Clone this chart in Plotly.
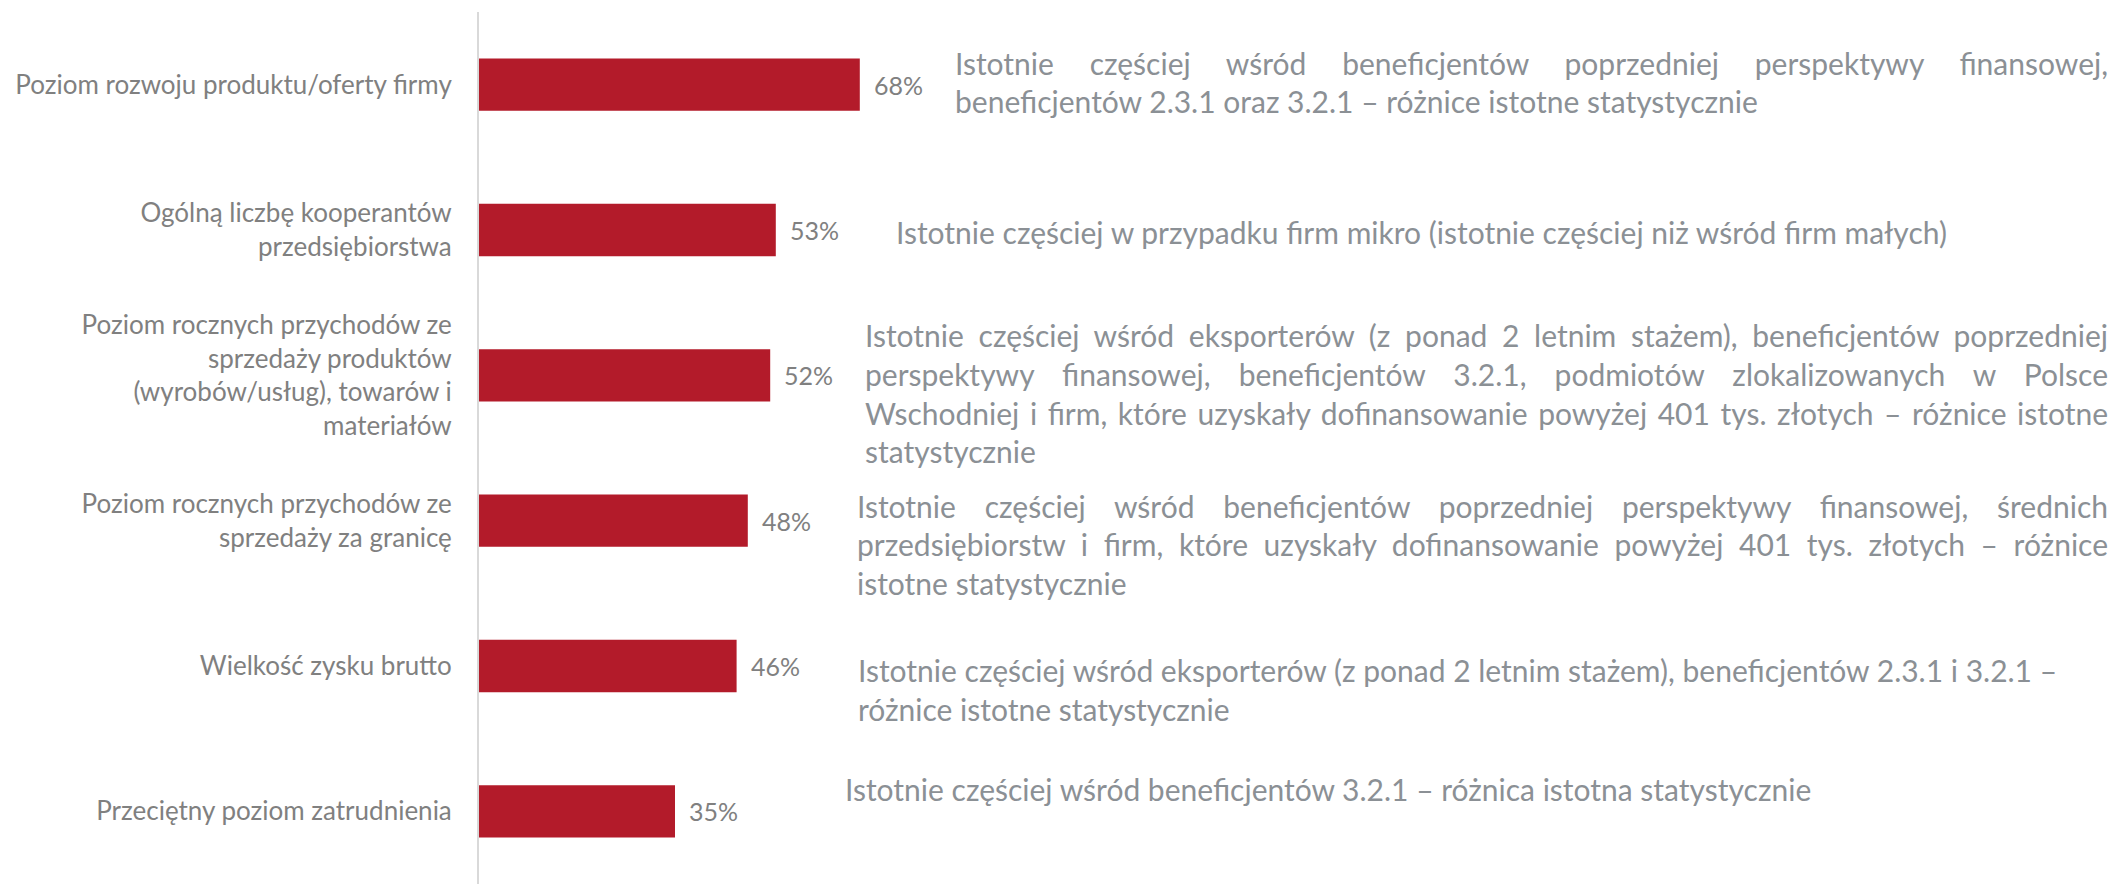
import plotly.graph_objects as go

# ---- data ----
categories = [
    "Poziom rozwoju produktu/oferty firmy",
    "Ogólną liczbę kooperantów<br>przedsiębiorstwa",
    "Poziom rocznych przychodów ze<br>sprzedaży produktów<br>(wyrobów/usług), towarów i<br>materiałów",
    "Poziom rocznych przychodów ze<br>sprzedaży za granicę",
    "Wielkość zysku brutto",
    "Przeciętny poziom zatrudnienia",
]
values = [68, 53, 52, 48, 46, 35]

notes = [
    ["Istotnie częściej wśród beneficjentów poprzedniej perspektywy finansowej,",
     "beneficjentów 2.3.1 oraz 3.2.1 – różnice istotne statystycznie"],
    ["Istotnie częściej w przypadku firm mikro (istotnie częściej niż wśród firm małych)"],
    ["Istotnie częściej wśród eksporterów (z ponad 2 letnim stażem), beneficjentów poprzedniej",
     "perspektywy finansowej, beneficjentów 3.2.1, podmiotów zlokalizowanych w Polsce",
     "Wschodniej i firm, które uzyskały dofinansowanie powyżej 401 tys. złotych – różnice istotne",
     "statystycznie"],
    ["Istotnie częściej wśród beneficjentów poprzedniej perspektywy finansowej, średnich",
     "przedsiębiorstw i firm, które uzyskały dofinansowanie powyżej 401 tys. złotych – różnice",
     "istotne statystycznie"],
    ["Istotnie częściej wśród eksporterów (z ponad 2 letnim stażem), beneficjentów 2.3.1 i 3.2.1 –",
     "różnice istotne statystycznie"],
    ["Istotnie częściej wśród beneficjentów 3.2.1 – różnica istotna statystycznie"],
]

# ---- layout / style constants ----
W, H = 2116, 884
ML, MR, MT, MB = 479, 0, 12, 0
PX_PER_PCT = 5.6
plot_w = W - ML - MR
x_max = plot_w / PX_PER_PCT

note_left_px = [954, 895, 864, 856, 857, 844]
note_first_offset = [-22, 2, -40, -15, 4, -22]   # px, line 1 centre relative to bar centre (down +)
note_line_gap = 38.7
note_justify = [[True, False], [False], [True, True, True, False], [True, True, False], [False, False], [False]]
JUSTIFY_RIGHT = 2108

BAR_COLOR = "#B31B2A"
LABEL_COLOR = "#808080"
NOTE_COLOR = "#8b9095"
FONT = "Lato, 'Open Sans', sans-serif"
FS_LABEL = 26
FS_VALUE = 25
FS_NOTE = 30

fig = go.Figure()
fig.add_trace(go.Bar(
    x=values, y=categories, orientation="h",
    marker=dict(color=BAR_COLOR, line=dict(width=0)),
    width=0.36, hoverinfo="skip",
))

annotations = []
# value labels
for cat, v in zip(categories, values):
    annotations.append(dict(
        x=v, y=cat, xref="x", yref="y", text=f"{v}%", showarrow=False,
        xanchor="left", yanchor="middle", xshift=13, borderpad=0,
        font=dict(family=FONT, size=FS_VALUE, color=LABEL_COLOR),
    ))
# notes, one annotation per line
for i, (cat, lines) in enumerate(zip(categories, notes)):
    for j, line in enumerate(lines):
        off = note_first_offset[i] + j * note_line_gap
        annotations.append(dict(
            x=(note_left_px[i] - ML) / plot_w, y=cat, xref="paper", yref="y",
            text=line, showarrow=False, xanchor="left", yanchor="middle",
            align="left", yshift=-off, borderpad=0,
            name=("justify" if note_justify[i][j] else "plain"),
            font=dict(family=FONT, size=FS_NOTE, color=NOTE_COLOR),
        ))

fig.update_layout(
    width=W, height=H,
    margin=dict(l=ML, r=MR, t=MT, b=MB, autoexpand=False),
    paper_bgcolor="white", plot_bgcolor="white",
    showlegend=False,
    annotations=annotations,
    font=dict(family=FONT, size=FS_LABEL, color=LABEL_COLOR),
    xaxis=dict(range=[0, x_max], showgrid=False, zeroline=False, showticklabels=False,
               showline=False, fixedrange=True, automargin=False),
    yaxis=dict(categoryorder="array", categoryarray=categories, autorange="reversed",
               showgrid=False, zeroline=False, showline=True, linecolor="#d9d9d9", linewidth=2,
               ticks="outside", ticklen=20, tickcolor="rgba(0,0,0,0)", automargin=False,
               tickfont=dict(family=FONT, size=FS_LABEL, color=LABEL_COLOR), fixedrange=True),
)

post = """
(function(){
  document.body.style.margin = '0';
  document.body.style.overflow = 'hidden';
  var gd = document.getElementsByClassName('plotly-graph-div')[0];
  function justify(){
    var anns = gd._fullLayout.annotations;
    for (var i = 0; i < anns.length; i++) {
      if (anns[i].name !== 'justify') continue;
      var g = gd.querySelector('g.annotation[data-index="' + i + '"] text.annotation-text');
      if (!g) continue;
      var txt = g.textContent;
      var n = (txt.match(/ /g) || []).length;
      if (!n) continue;
      g.style.wordSpacing = '0px';
      var r = g.getBoundingClientRect();
      var extra = (%d - r.right) / n;
      g.style.wordSpacing = extra + 'px';
    }
  }
  if (document.fonts && document.fonts.ready) { document.fonts.ready.then(justify); } else { justify(); }
})();
""" % JUSTIFY_RIGHT

fig.write_html("out.html", post_script=post, config={"displayModeBar": False})
